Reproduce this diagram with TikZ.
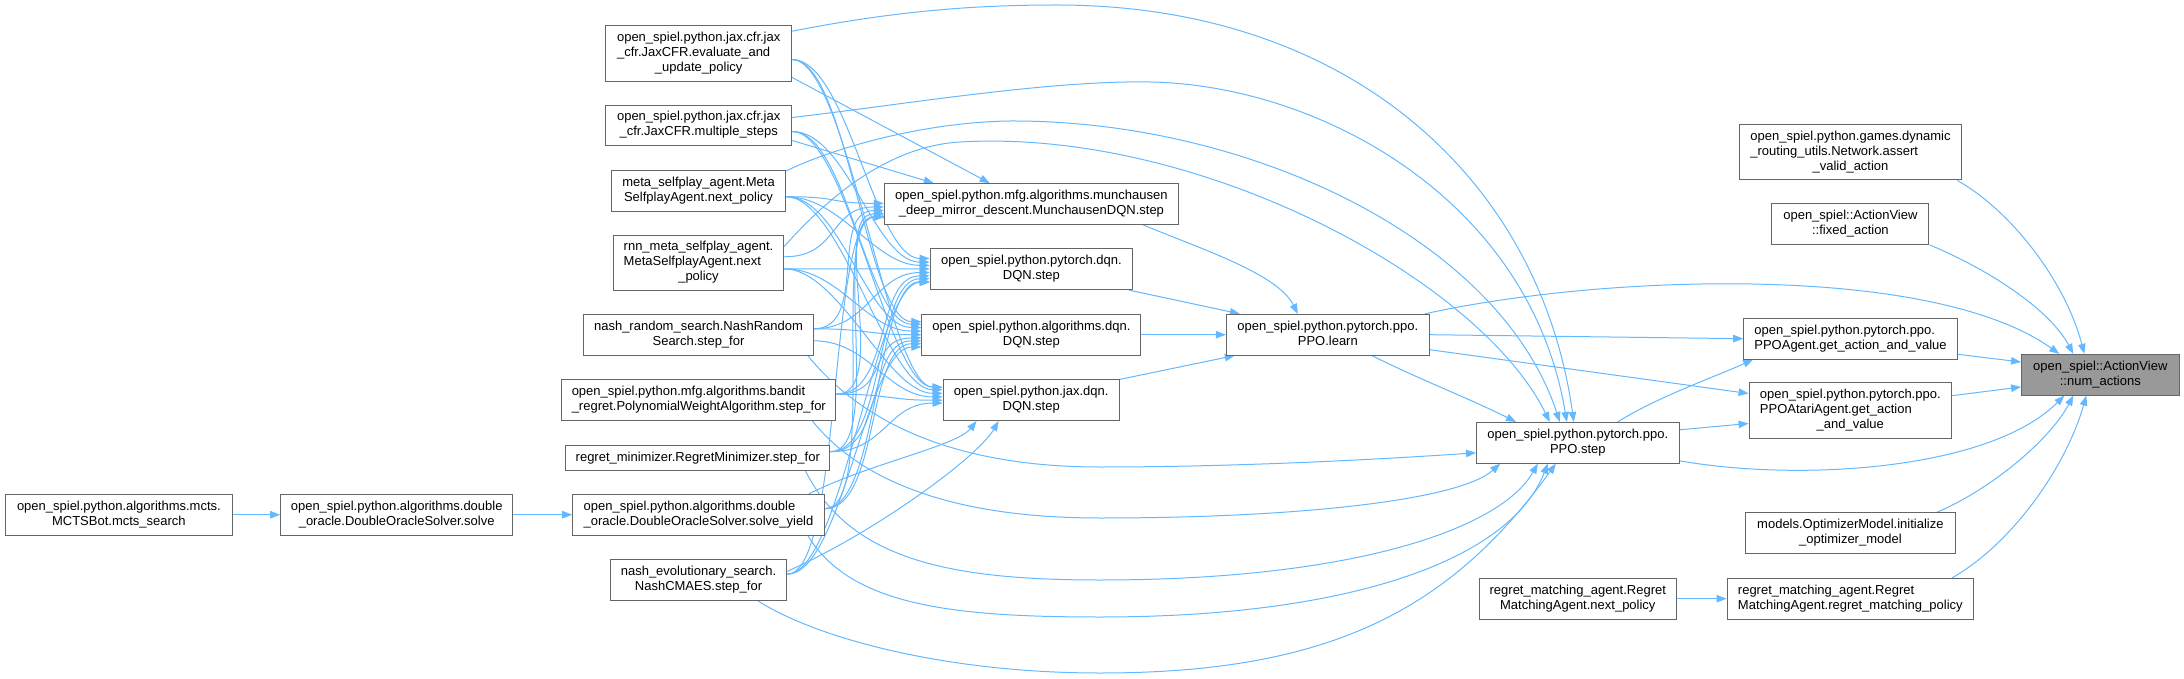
\documentclass[tikz,border=0pt]{standalone}
\usepackage{fontspec}
\setmainfont{Liberation Sans}
\usetikzlibrary{arrows.meta,calc}
\definecolor{edgec}{HTML}{63B8FF}
\definecolor{nodeb}{HTML}{666666}
\definecolor{rootf}{HTML}{999999}
\newcommand{\lbl}[2]{\begin{tabular}{@{}l@{}}#1\\\multicolumn{1}{@{}c@{}}{#2}\end{tabular}}
\pgfdeclarelayer{bg}
\pgfsetlayers{bg,main}
\tikzset{
  fn/.style={draw=nodeb, line width=1pt, fill=white, rectangle, inner sep=0pt,
             font=\fontsize{13}{15}\selectfont},
  nA/.style={fn, minimum height=25.3pt},
  nB/.style={fn, minimum height=40.7pt},
  nC/.style={fn, minimum height=55.6pt},
  root/.style={fill=rootf},
  ed/.style={draw=edgec, line width=1pt, -{Triangle[length=10pt,width=7.5pt]}},
}
\begin{document}
\begin{tikzpicture}[x=1pt,y=-1pt]
\useasboundingbox (0,0) rectangle (2184,679);
% rank 0-1
\node[nB, minimum width=227.6pt] (mcts) at (118.9,514.7) {\lbl{open\_spiel.python.algorithms.mcts.}{MCTSBot.mcts\_search}};
\node[nB, minimum width=232.2pt] (solve) at (396.7,514.7) {\lbl{open\_spiel.python.algorithms.double}{\_oracle.DoubleOracleSolver.solve}};
% rank 2
\node[nC, minimum width=186pt] (E1) at (698.7,53.5) {\lbl{open\_spiel.python.jax.cfr.jax\\\_cfr.JaxCFR.evaluate\_and}{\_update\_policy}};
\node[nB, minimum width=186pt] (E2) at (698.7,125.5) {\lbl{open\_spiel.python.jax.cfr.jax}{\_cfr.JaxCFR.multiple\_steps}};
\node[nB, minimum width=174.4pt] (E3) at (698.5,190.7) {\lbl{meta\_selfplay\_agent.Meta}{SelfplayAgent.next\_policy}};
\node[nC, minimum width=170.4pt] (E4) at (698.5,262.8) {\lbl{rnn\_meta\_selfplay\_agent.\\MetaSelfplayAgent.next}{\_policy}};
\node[nB, minimum width=229.6pt] (E5) at (698.5,334.8) {\lbl{nash\_random\_search.NashRandom}{Search.step\_for}};
\node[nB, minimum width=274.3pt] (E6) at (698.8,400.2) {\lbl{open\_spiel.python.mfg.algorithms.bandit}{\_regret.PolynomialWeightAlgorithm.step\_for}};
\node[nA, minimum width=264.3pt] (E7) at (697.8,457.7) {regret\_minimizer.RegretMinimizer.step\_for};
\node[nB, minimum width=251.6pt] (E8) at (698.5,514.7) {\lbl{open\_spiel.python.algorithms.double}{\_oracle.DoubleOracleSolver.solve\_yield}};
\node[nB, minimum width=176.4pt] (E9) at (698.5,580.2) {\lbl{nash\_evolutionary\_search.}{NashCMAES.step\_for}};
% rank 3
\node[nB, minimum width=294.3pt] (M) at (1031.4,204) {\lbl{open\_spiel.python.mfg.algorithms.munchausen}{\_deep\_mirror\_descent.MunchausenDQN.step}};
\node[nB, minimum width=202.5pt] (PD) at (1031.4,269.3) {\lbl{open\_spiel.python.pytorch.dqn.}{DQN.step}};
\node[nB, minimum width=219pt] (AD) at (1031.4,334.7) {\lbl{open\_spiel.python.algorithms.dqn.}{DQN.step}};
\node[nB, minimum width=176.3pt] (JD) at (1031.2,400.2) {\lbl{open\_spiel.python.jax.dqn.}{DQN.step}};
% rank 4-5
\node[nB, minimum width=202.9pt] (L) at (1327.8,334.7) {\lbl{open\_spiel.python.pytorch.ppo.}{PPO.learn}};
\node[nB, minimum width=202.5pt] (PS) at (1577.8,442.8) {\lbl{open\_spiel.python.pytorch.ppo.}{PPO.step}};
\node[nB, minimum width=196.8pt] (RN) at (1577.8,598.7) {\lbl{regret\_matching\_agent.Regret}{MatchingAgent.next\_policy}};
% rank 6
\node[nC, minimum width=222.7pt] (R1) at (1850.5,152.2) {\lbl{open\_spiel.python.games.dynamic\\\_routing\_utils.Network.assert}{\_valid\_action}};
\node[nB, minimum width=157.1pt] (R2) at (1850.4,224) {\lbl{open\_spiel::ActionView}{::fixed\_action}};
\node[nB, minimum width=213.7pt] (R3) at (1850.5,338.7) {\lbl{open\_spiel.python.pytorch.ppo.}{PPOAgent.get\_action\_and\_value}};
\node[nC, minimum width=202.5pt] (R4) at (1850.3,410.5) {\lbl{open\_spiel.python.pytorch.ppo.\\PPOAtariAgent.get\_action}{\_and\_value}};
\node[nB, minimum width=209.2pt] (R5) at (1850.4,533.3) {\lbl{models.OptimizerModel.initialize}{\_optimizer\_model}};
\node[nB, minimum width=246.5pt] (R6) at (1850.3,598.7) {\lbl{regret\_matching\_agent.Regret}{MatchingAgent.regret\_matching\_policy}};
% rank 7
\node[nB, root, minimum width=157.5pt] (T) at (2100.3,374.7) {\lbl{open\_spiel::ActionView}{::num\_actions}};

\begin{pgfonlayer}{bg}
% simple chains
\draw[ed] (mcts.east) -- (solve.west);
\draw[ed] (solve.east) -- (E8.west);
\draw[ed] (RN.east) -- (R6.west);
% rank 2 -> rank 3
\foreach \i/\ey/\a in {E1/53.5/1,E2/125.5/2,E3/190.7/3,E4/262.8/4,E5/334.8/5,E6/400.2/6,E7/457.7/7,E8/514.7/8,E9/580.2/9}{
  \foreach \j/\ry/\b in {M/204/1,PD/269.3/2,AD/334.7/3,JD/400.2/4}{
    \pgfmathtruncatemacro\skp{((\a<3)&&(\b==1)) || ((\a>7)&&(\b==4)) ? 1 : 0}
    \ifnum\skp=0
      \pgfmathsetmacro\s{\ry>\ey ? 6 : -6}
      \pgfmathsetmacro\e{max(-13,min(13,(\ey-\ry)*0.05))}
      \draw[ed] ($(\i.east)+(0,\s)$) .. controls +(55,0) and +(-55,0) .. ($(\j.west)+(0,\e)$);
    \fi
  }
}
% straight runs into top of Munchausen and bottom of jax DQN
\draw[ed] ($(E1.east)+(0,24)$) -- ($(M.north west)+(106,0)$);
\draw[ed] ($(E2.east)+(0,15)$) -- ($(M.north west)+(50,0)$);
\draw[ed] ($(E8.north east)+(-16,0)$) .. controls +(60,-30) and +(-20,25) .. ($(JD.south west)+(34,0)$);
\draw[ed] ($(E9.north east)+(0,12)$) .. controls +(90,-40) and +(-20,35) .. ($(JD.south west)+(56,0)$);
% rank 2 -> PPO.step, over the top
\draw[ed] ($(E1.north east)+(0,6)$) .. controls (900,10) and (980,5) .. (1057,5)
   .. controls (1350,5) and (1540,180) .. ($(PS.north)+(-4,0)$);
\draw[ed] ($(E2.east)+(0,-8)$) .. controls (900,105) and (1050,80) .. (1150,82)
   .. controls (1320,85) and (1530,200) .. ($(PS.north)+(-11,0)$);
\draw[ed] ($(E3.north east)+(0,1)$) .. controls (840,145) and (930,122) .. (1010,121)
   .. controls (1250,120) and (1500,240) .. ($(PS.north)+(-18,0)$);
\draw[ed] ($(E4.north east)+(0,12)$) .. controls (830,195) and (890,146) .. (960,142)
   .. controls (1200,128) and (1480,280) .. ($(PS.north)+(-28,0)$);
% rank 2 -> PPO.step, underneath
\draw[ed] ($(E5.south east)+(-6,0)$) .. controls (860,420) and (950,467) .. (1100,467)
   .. controls (1250,467) and (1400,458) .. ($(PS.west)+(0,10)$);
\draw[ed] ($(E6.south east)+(-24,0)$) .. controls (860,480) and (950,518) .. (1100,518)
   .. controls (1300,518) and (1460,500) .. ($(PS.south west)+(24,0)$);
\draw[ed] ($(E7.south east)+(-25,0)$) .. controls (850,560) and (950,580) .. (1100,580)
   .. controls (1350,580) and (1500,530) .. ($(PS.south)+(-40,0)$);
\draw[ed] ($(E8.south east)+(-17,0)$) .. controls (850,605) and (950,617) .. (1100,617)
   .. controls (1350,617) and (1510,560) .. ($(PS.south)+(-30,0)$);
\draw[ed] ($(E9.south east)+(-29,0)$) .. controls (820,640) and (950,673) .. (1100,673)
   .. controls (1330,673) and (1450,610) .. ($(PS.south)+(-22,0)$);
% rank 3 -> learn
\draw[ed] ($(M.south east)+(-36,0)$) .. controls +(60,25) and +(-20,-40) .. ($(L.north)+(-30,0)$);
\draw[ed] ($(PD.south east)+(-4,0)$) -- ($(L.north west)+(14,0)$);
\draw[ed] (AD.east) -- (L.west);
\draw[ed] (JD.north east) -- ($(L.south west)+(9,0)$);
% learn ->
\draw[ed] ($(L.south)+(44,0)$) .. controls +(50,25) and +(-50,-25) .. ($(PS.north west)+(40,0)$);
\draw[ed] (L.east) -- (R3.west);
\draw[ed] ($(L.east)+(0,15)$) -- ($(R4.west)+(0,-17)$);
\draw[ed] ($(L.north east)+(-5,0)$) .. controls (1600,275) and (1930,262) .. ($(T.north)+(-41,0)$);
% PPO.step ->
\draw[ed] ($(PS.north east)+(-62,0)$) .. controls +(40,-25) and +(-40,18) .. ($(R3.south west)+(10,0)$);
\draw[ed] ($(PS.east)+(0,-13)$) -- ($(R4.west)+(0,13)$);
\draw[ed] ($(PS.east)+(0,18)$) .. controls (1800,482) and (1990,470) .. ($(T.south)+(-36,0)$);
% rank 6 -> num_actions
\draw[ed] ($(R1.south east)+(-5,0)$) .. controls (2010,210) and (2065,280) .. ($(T.north)+(-16,0)$);
\draw[ed] (R2.south east) .. controls (1990,270) and (2050,310) .. ($(T.north)+(-27,0)$);
\draw[ed] ($(R3.east)+(0,15.6)$) -- ($(T.west)+(0,-12.7)$);
\draw[ed] ($(R4.east)+(0,-14.8)$) -- ($(T.west)+(0,12.3)$);
\draw[ed] ($(R5.north east)+(-19,0)$) .. controls (1990,490) and (2050,440) .. ($(T.south)+(-27,0)$);
\draw[ed] ($(R6.north east)+(-22,0)$) .. controls (2010,545) and (2065,470) .. ($(T.south)+(-14,0)$);
\end{pgfonlayer}
\end{tikzpicture}
\end{document}
